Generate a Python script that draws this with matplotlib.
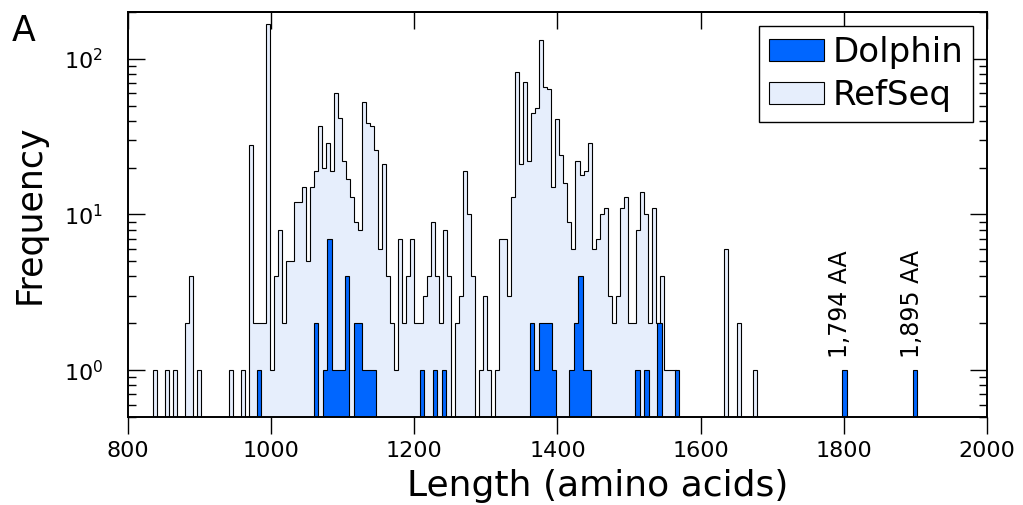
import numpy as np
import matplotlib
matplotlib.use("Agg")
import matplotlib.pyplot as plt

# histogram data (150 bins each)
n_bins = 150
refseq_range = (834.7, 1678.2)
dolphin_range = (979.9, 1902.5)

refseq_counts = [
    1, 0, 0, 1, 0, 1, 0, 0, 2, 4, 0, 1, 0, 0, 0,
    0, 0, 0, 0, 1, 0, 0, 1, 0, 28, 2, 2, 2, 168, 1,
    4, 8, 2, 5, 5, 12, 12, 15, 5, 15, 19, 37, 20, 29, 19,
    60, 42, 22, 17, 13, 9, 8, 53, 39, 37, 26, 6, 21, 4, 2,
    1, 7, 2, 4, 7, 2, 2, 3, 4, 9, 4, 2, 8, 4, 0,
    2, 3, 19, 10, 4, 0, 1, 3, 1, 0, 1, 7, 7, 3, 13,
    82, 21, 71, 22, 45, 48, 133, 66, 64, 15, 41, 24, 16, 9, 6,
    22, 18, 19, 29, 6, 7, 10, 11, 3, 2, 3, 11, 13, 2, 2,
    8, 14, 10, 2, 11, 2, 4, 1, 1, 1, 0, 0, 0, 0, 0,
    0, 0, 0, 0, 0, 0, 0, 6, 0, 0, 2, 0, 0, 0, 1,
]

dolphin_bin_idx = [0, 13, 15, 16, 17, 18, 19, 20, 22, 23, 24, 25, 26, 37, 40, 42,
                   62, 63, 64, 65, 66, 67, 71, 72, 73, 74, 75, 86, 88, 91, 95,
                   133, 149]
dolphin_bin_counts = [1, 2, 1, 7, 1, 1, 1, 4, 2, 2, 1, 1, 1, 1, 1, 1,
                      2, 1, 2, 2, 2, 1, 1, 2, 4, 1, 1, 1, 1, 2, 1,
                      1, 1]

outliers = [1794, 1895]

refseq_edges = np.linspace(refseq_range[0], refseq_range[1], n_bins + 1)
dolphin_edges = np.linspace(dolphin_range[0], dolphin_range[1], n_bins + 1)
dolphin_counts = np.zeros(n_bins)
dolphin_counts[dolphin_bin_idx] = dolphin_bin_counts

fig = plt.figure(figsize=(10.23, 5.05), dpi=100)
ax = fig.add_axes([0.1251, 0.1743, 0.8397, 0.8019])

_, _, p_ref = ax.hist(refseq_edges[:-1], bins=refseq_edges, weights=refseq_counts,
                      histtype="stepfilled", facecolor="#e6eefc", edgecolor="black",
                      linewidth=0.8, log=True, label="RefSeq")
_, _, p_dol = ax.hist(dolphin_edges[:-1], bins=dolphin_edges, weights=dolphin_counts,
                      histtype="stepfilled", facecolor="#0066ff", edgecolor="black",
                      linewidth=0.8, log=True, label="Dolphin")

for x in outliers:
    ax.text(x, 1.2, f"{x:,} AA", rotation=90, ha="center", va="bottom", fontsize=17)

ax.set_xlim(800, 2000)
ax.set_ylim(0.5, 200)
ax.set_xticks(range(800, 2001, 200))

ax.tick_params(axis="x", direction="out", length=12, width=1, labelsize=16, pad=5)
ax.tick_params(axis="y", which="both", direction="in", left=True, right=True,
               width=1, labelsize=16, pad=18)
ax.tick_params(axis="y", which="major", length=12)
ax.tick_params(axis="y", which="minor", length=6)

top = ax.secondary_xaxis("top")
top.set_xticks(range(800, 2001, 200))
top.tick_params(axis="x", direction="in", length=12, width=1, labeltop=False)

for s in ax.spines.values():
    s.set_linewidth(1.4)
for s in top.spines.values():
    s.set_linewidth(1.4)

ax.set_xlabel("Length (amino acids)", fontsize=26, labelpad=6, x=0.547)
ax.set_ylabel("Frequency", fontsize=25, labelpad=12)

leg = ax.legend([p_dol[0], p_ref[0]], ["Dolphin", "RefSeq"], loc="upper right",
                fontsize=24.5, fancybox=False, framealpha=1, edgecolor="black",
                borderpad=0.3, labelspacing=0.3, handlelength=1.6,
                handleheight=0.6, handletextpad=0.25, borderaxespad=0.4)
leg.get_frame().set_linewidth(1)

fig.text(0.011, 0.972, "A", fontsize=25, va="top", ha="left")

fig.savefig("out.png", dpi=100)
